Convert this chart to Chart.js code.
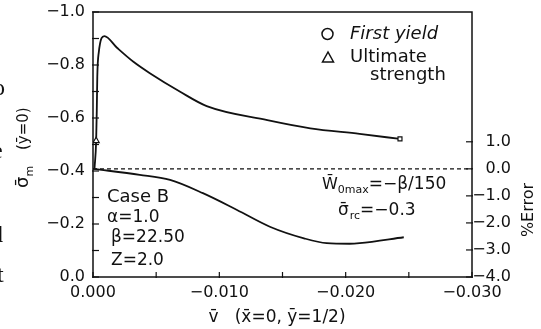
<!DOCTYPE html>
<html><head><meta charset="utf-8">
<script src="https://cdn.jsdelivr.net/npm/chart.js@4/dist/chart.umd.min.js"></script>
<style>html,body{margin:0;padding:0;background:#fff}#wrap{width:541px;height:329px;position:relative}</style>
</head><body><div id="wrap"><canvas id="c"></canvas></div>
<script>
// ---- data ----
const vStress  = [-0.00012, -0.00025, -0.0003, -0.00034, -0.00045, -0.0009, -0.0019, -0.0032, -0.0045, -0.0069, -0.0090, -0.0138, -0.0172, -0.0211, -0.0243];
const sigmaM   = [-0.41, -0.514, -0.63, -0.756, -0.845, -0.909, -0.865, -0.812, -0.769, -0.699, -0.645, -0.592, -0.561, -0.540, -0.521];
const vError   = [0, -0.0037, -0.0061, -0.0087, -0.0114, -0.0140, -0.0167, -0.0185, -0.0203, -0.0211, -0.0246];
const pctError = [0, -0.22, -0.41, -0.90, -1.52, -2.14, -2.57, -2.75, -2.77, -2.75, -2.53];
const zeroLineV = [0, -0.03];
const zeroLineE = [0, 0];
const xTickValues     = [0, -0.01, -0.02, -0.03];
const leftTickValues  = [-1.0, -0.8, -0.6, -0.4, -0.2, 0.0];
const rightTickValues = [1, 0, -1, -2, -3, -4];
const xMinorStep = 0.005, leftMinorStep = 0.1, rightMinorStep = 1;

const INK = '#111';
const FONT = '"DejaVu Sans", sans-serif';
const MINUS = '\u2212';
function fmt(v, d){ const s = Math.abs(v).toFixed(d); return (v < 0 && Number(s) !== 0 ? MINUS : '') + s; }

const triIdx = 1, endIdx = vStress.length - 1;

const overlay = {
  id: 'overlay',
  afterDraw(chart){
    const {ctx, chartArea: a, scales: {x, y, y2}} = chart;
    ctx.save();
    ctx.strokeStyle = INK; ctx.fillStyle = INK;
    // frame
    ctx.lineWidth = 1.5;
    ctx.strokeRect(a.left, a.top, a.right - a.left, a.bottom - a.top);
    // inward ticks
    ctx.lineWidth = 1.2;
    const seg = (x1,y1,x2,y2_) => { ctx.beginPath(); ctx.moveTo(x1,y1); ctx.lineTo(x2,y2_); ctx.stroke(); };
    for (let k = 0; k <= Math.round(1/leftMinorStep); k++) {
      const py = y.getPixelForValue(-k*leftMinorStep); seg(a.left-1, py, a.left+6, py);
    }
    for (let k = 0; k <= Math.round(0.03/xMinorStep); k++) {
      const px = x.getPixelForValue(-k*xMinorStep); seg(px, a.bottom+1, px, a.bottom-5);
    }
    for (let v = -4; v <= 1; v += rightMinorStep) {
      const py = y2.getPixelForValue(v); seg(a.right-6, py, a.right+1, py);
    }

    const txt = (s, px, py, size, opts={}) => {
      ctx.font = (opts.italic ? 'italic ' : '') + size + 'px ' + FONT;
      ctx.textAlign = opts.align || 'left'; ctx.textBaseline = 'alphabetic';
      ctx.fillText(s, px, py);
      return ctx.measureText(s).width;
    };

    // legend
    ctx.lineWidth = 1.5;
    ctx.beginPath(); ctx.arc(327.5, 34, 5.5, 0, Math.PI*2); ctx.stroke();
    ctx.beginPath(); ctx.moveTo(328, 52); ctx.lineTo(322.5, 62); ctx.lineTo(333.5, 62); ctx.closePath(); ctx.stroke();
    txt('First yield', 350, 39, 18, {italic:true});
    txt('Ultimate', 350, 62, 18);
    txt('strength', 370, 80, 18);

    // case annotation
    txt('Case B', 107, 202, 18);
    txt('\u03B1=1.0', 107, 222, 17);
    txt('\u03B2=22.50', 111, 242, 17);
    txt('Z=2.0', 111, 265, 17);

    // right annotations
    let cx = 322;
    cx += txt('W\u0304', cx, 189, 16);
    cx += txt('0max', cx, 193, 11);
    txt('=' + MINUS + '\u03B2/150', cx, 189, 17);
    cx = 338;
    cx += txt('\u03C3\u0304', cx, 215, 17);
    cx += txt('rc', cx+1, 219, 11) + 1;
    txt('=' + MINUS + '0.3', cx, 215, 17);

    // x-axis title
    txt('v\u0304   (x\u0304=0, y\u0304=1/2)', 277, 322, 17, {align:'center'});

    // left axis title (rotated, reading upward)
    ctx.save();
    ctx.translate(28, 188); ctx.rotate(-Math.PI/2);
    let t = 0;
    t += txt('\u03C3\u0304', t, 0, 18);
    t += txt('m', t, 5, 11);
    txt('(y\u0304=0)', 38, 0, 15);
    ctx.restore();

    // right axis title
    ctx.save();
    ctx.translate(533, 210); ctx.rotate(-Math.PI/2);
    txt('%Error', 0, 0, 16, {align:'center'});
    ctx.restore();

    // scan fragments of neighbouring page text at the left edge
    ctx.font = '24px "Liberation Serif", serif'; ctx.textAlign = 'left';
    ctx.fillText('o', -7, 95);
    ctx.fillText('e', -8, 158);
    ctx.fillText('d', -9, 242);
    ctx.fillText('t', -3, 282);
    ctx.restore();
  }
};

function noPad(s){ s.paddingTop = 0; s.paddingBottom = 0; s.paddingLeft = 0; s.paddingRight = 0; }

new Chart(document.getElementById('c'), {
  type: 'line',
  data: {
    datasets: [
      {
        data: vStress.map((v,i) => ({x: v, y: sigmaM[i]})),
        yAxisID: 'y', borderColor: INK, borderWidth: 1.8, cubicInterpolationMode: 'monotone',
        pointRadius: vStress.map((_,i) => i === triIdx ? 3.5 : (i === endIdx ? 2.8 : 0)),
        pointStyle: vStress.map((_,i) => i === triIdx ? 'triangle' : 'rect'),
        pointBackgroundColor: '#fff', pointBorderColor: INK, pointBorderWidth: 1.2
      },
      {
        data: vError.map((v,i) => ({x: v, y: pctError[i]})),
        yAxisID: 'y2', borderColor: INK, borderWidth: 1.8, cubicInterpolationMode: 'monotone', pointRadius: 0
      },
      {
        data: zeroLineV.map((v,i) => ({x: v, y: zeroLineE[i]})),
        yAxisID: 'y2', borderColor: INK, borderWidth: 1.2, borderDash: [4,3], pointRadius: 0
      }
    ]
  },
  options: {
    responsive: true, maintainAspectRatio: false, animation: false,
    layout: {padding: {top: 12, left: 0, right: 30, bottom: 0}, autoPadding: false},
    plugins: {legend: {display: false}, tooltip: {enabled: false}},
    scales: {
      x: {
        type: 'linear', reverse: true, min: -0.03, max: 0, position: 'bottom',
        afterBuildTicks: s => { s.ticks = xTickValues.map(v => ({value: v})); },
        afterFit: s => { s.height = 52; noPad(s); },
        grid: {display: false, drawTicks: false}, border: {display: false},
        ticks: {color: INK, font: {family: FONT, size: 16}, padding: 6, maxRotation: 0, callback: v => fmt(v, 3)}
      },
      y: {
        type: 'linear', reverse: true, min: -1, max: 0, position: 'left',
        afterBuildTicks: s => { s.ticks = leftTickValues.map(v => ({value: v})); },
        afterFit: s => { s.width = 93; noPad(s); },
        grid: {display: false, drawTicks: false}, border: {display: false},
        ticks: {color: INK, font: {family: FONT, size: 16}, padding: 8, callback: v => fmt(v, 1)}
      },
      y2: {
        type: 'linear', min: -4, max: 5.8, position: 'right',
        afterBuildTicks: s => { s.ticks = rightTickValues.map(v => ({value: v})); },
        afterFit: s => { s.width = 39; noPad(s); },
        grid: {display: false, drawTicks: false}, border: {display: false},
        ticks: {color: INK, font: {family: FONT, size: 16}, padding: 3, crossAlign: 'far', callback: v => fmt(v, 1)}
      }
    }
  },
  plugins: [overlay]
});
</script></body></html>
